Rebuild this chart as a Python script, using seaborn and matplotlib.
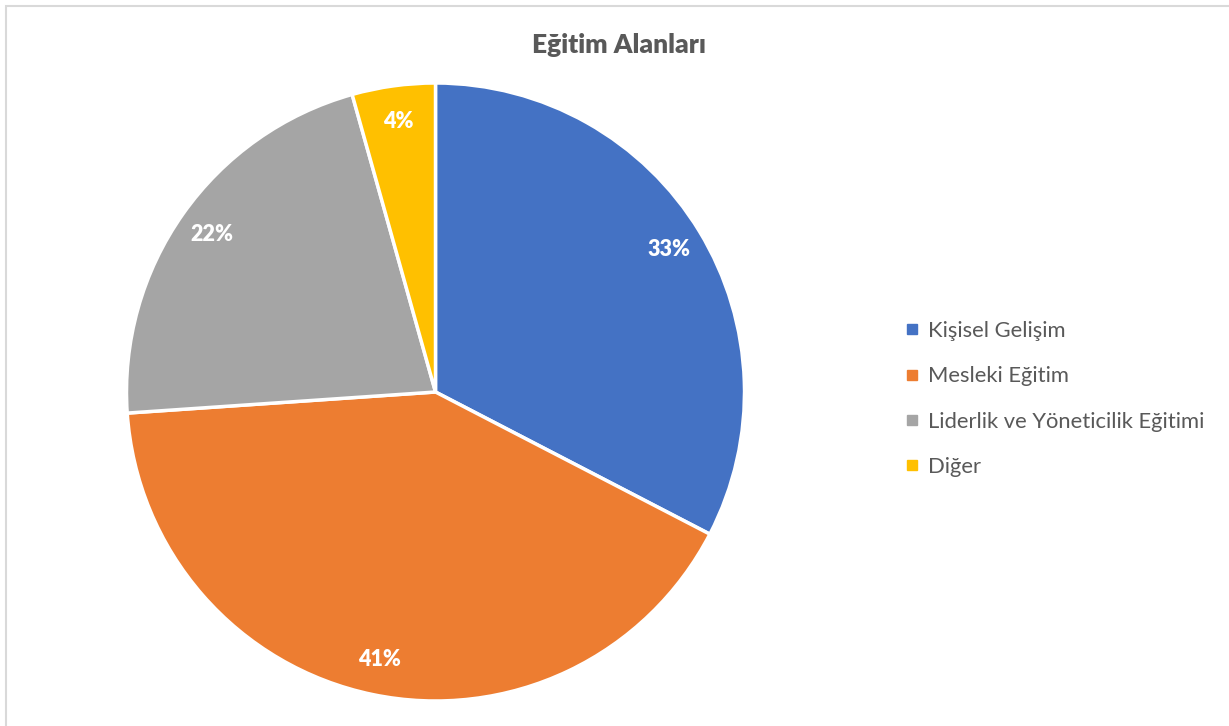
import matplotlib
matplotlib.use("Agg")
import matplotlib.pyplot as plt
from matplotlib.lines import Line2D
from matplotlib.patches import Rectangle
import seaborn as sns

categories = ["Kişisel Gelişim", "Mesleki Eğitim", "Liderlik ve Yöneticilik Eğitimi", "Diğer"]
values = [15, 19, 10, 2]
colors = ["#4472C4", "#ED7D31", "#A5A5A5", "#FFC000"]
title = "Eğitim Alanları"

sns.set_theme(style="white")
plt.rcParams["font.family"] = ["Lato", "DejaVu Sans"]

W, H = 1229, 726
fig = plt.figure(figsize=(W / 100, H / 100), dpi=100)
fig.patch.set_facecolor("white")

# border (top/left visible)
fig.patches.append(Rectangle((6 / W, -0.1), 1.2, 1 - 6 / H + 0.1, transform=fig.transFigure,
                             fill=False, edgecolor="#D9D9D9", linewidth=1.5))

cx, cy, r = 435.5, 392, 309
ax = fig.add_axes([(cx - r) / W, (H - cy - r) / H, 2 * r / W, 2 * r / H])
wedges, texts, autotexts = ax.pie(
    values, colors=colors, startangle=90, counterclock=False,
    autopct="%1.0f%%", pctdistance=0.885, radius=1,
    wedgeprops=dict(edgecolor="white", linewidth=2.5),
    textprops=dict(color="white", fontsize=15.5, fontweight="heavy"),
)
ax.set_xlim(-1.0, 1.0)
ax.set_ylim(-1.0, 1.0)
ax.set_aspect("equal")
ax.axis("off")

fig.text(619 / W, 1 - 45 / H, title, ha="center", va="center",
         fontsize=19, fontweight="heavy", color="#595959")

handles = [Line2D([], [], marker="s", linestyle="none", markersize=6.5,
                  markerfacecolor=c, markeredgecolor=c) for c in colors]
leg = fig.legend(handles, categories, loc="center left",
                 bbox_to_anchor=(907 / W, 1 - 399 / H), frameon=False,
                 fontsize=15.8, labelspacing=1.15, handlelength=0.5,
                 handletextpad=0.45, borderpad=0, borderaxespad=0)
for t in leg.get_texts():
    t.set_color("#595959")

fig.savefig("out.png", dpi=100, facecolor="white")
